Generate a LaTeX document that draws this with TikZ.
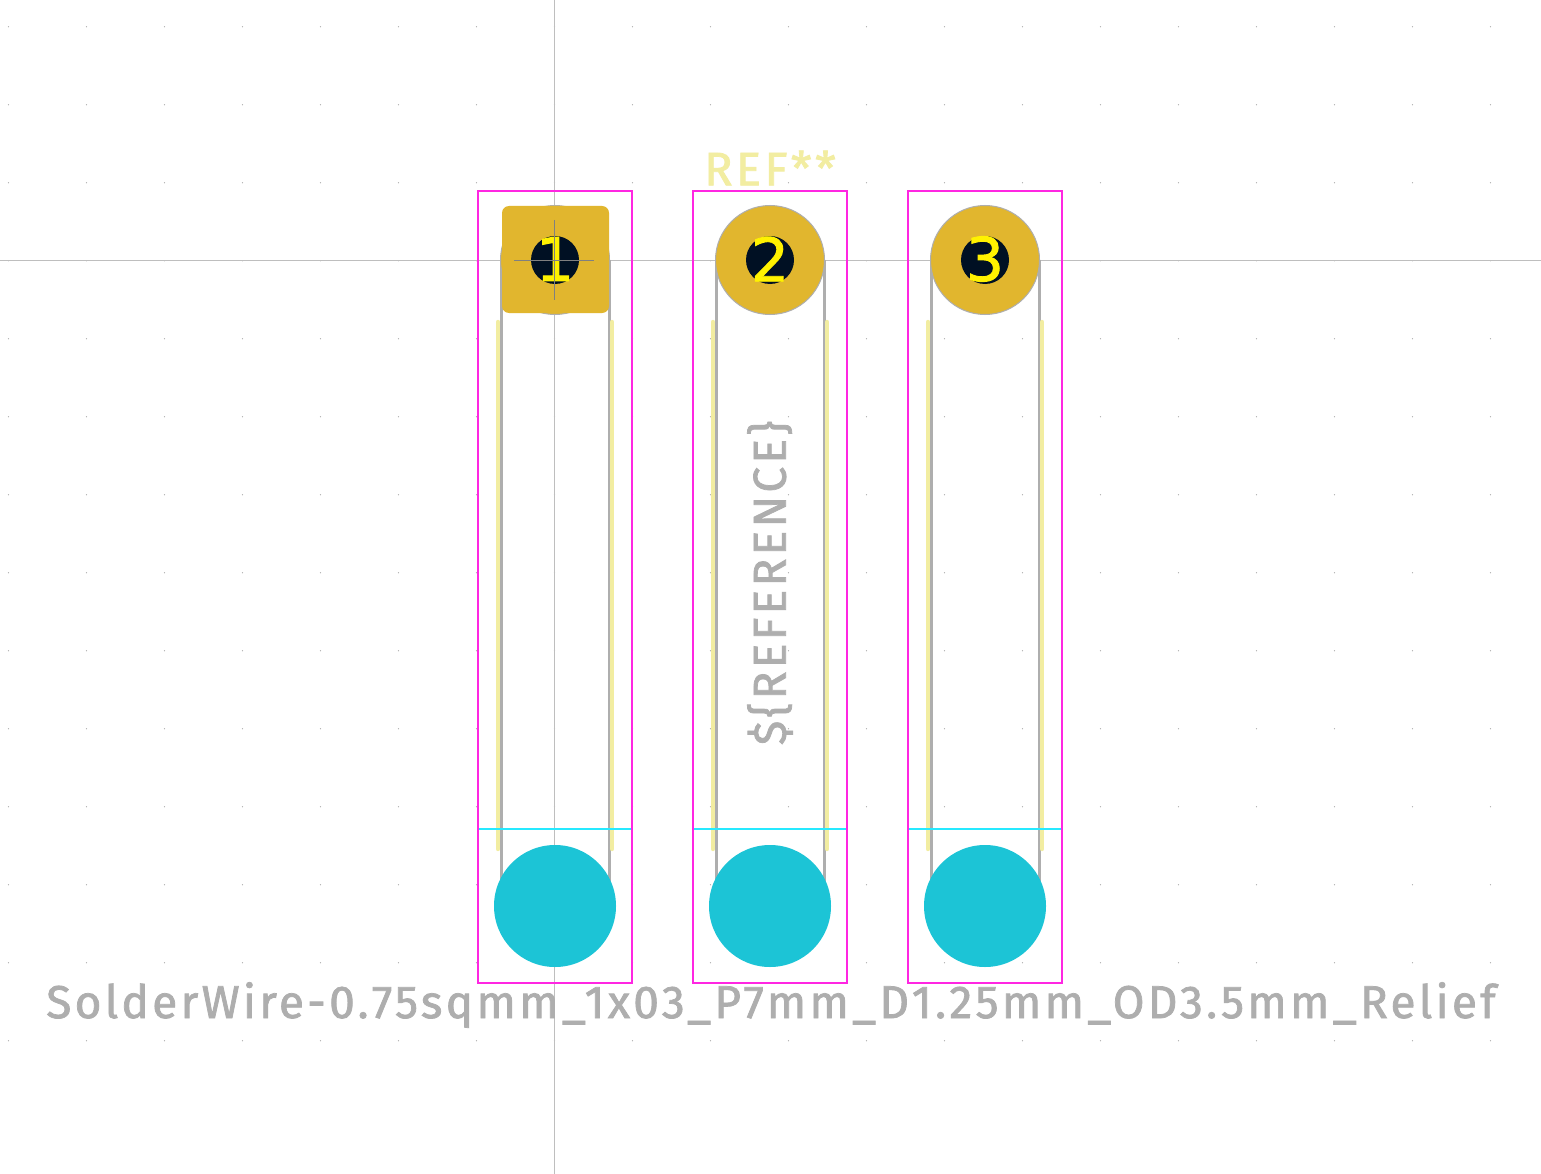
\documentclass[tikz,border=0pt]{standalone}
\usepackage{fontspec}
\setmainfont{Fira Sans}
\newfontfamily\kifont[LetterSpace=7.2,FakeBold=1.6]{Fira Sans}
\newfontfamily\numfont[FakeBold=1.5]{DejaVu Sans}
\definecolor{court}{HTML}{FF26E2}
\definecolor{cyanline}{HTML}{26E9FF}
\definecolor{cyandisc}{HTML}{1CC4D6}
\definecolor{padgold}{HTML}{E1B62E}
\definecolor{holedark}{HTML}{001023}
\definecolor{silk}{HTML}{F2EDA1}
\definecolor{fab}{HTML}{AEAEAE}
\definecolor{axisgrey}{HTML}{BEBEBE}
\definecolor{griddot}{HTML}{A8A8A8}
\tikzset{
  x=1pt,y=-1pt,
  courtline/.style={draw=court,line width=2.4pt},
  cutline/.style={draw=cyanline,line width=2pt},
  fabline/.style={draw=fab,line width=3pt},
  silkline/.style={draw=silk,line width=4.4pt,line cap=round},
  axisline/.style={draw=axisgrey,line width=1.2pt},
  padnum/.style={text=yellow,font=\fontsize{60}{60}\selectfont\numfont,inner sep=0pt},
  fabtext/.style={text=fab,inner sep=0pt},
}
\begin{document}
\begin{tikzpicture}
\useasboundingbox[fill=white] (0,0) rectangle (1541,1174);
% grid dots
\foreach \gx in {0,...,19}{
  \foreach \gy in {0,...,13}{
    \fill[griddot] ({8.5+78*\gx},{26.7+78*\gy}) circle (0.6);
  }
}
% axes
\draw[axisline] (554.5,0) -- (554.5,1174);
\draw[axisline] (0,260.5) -- (1541,260.5);
% columns
\foreach \cx/\n in {555/1,770/2,985/3}{
  \draw[fabline] (\cx-54,260) -- (\cx-54,885);
  \draw[fabline] (\cx+54,260) -- (\cx+54,885);
  \draw[silkline] (\cx-57,322) -- (\cx-57,849);
  \draw[silkline] (\cx+57,322) -- (\cx+57,849);
  \draw[courtline] (\cx-77,191) rectangle (\cx+77,983);
  \draw[cutline] (\cx-76,829) -- (\cx+76,829);
  \fill[cyandisc] (\cx,906) circle (61);
  \filldraw[fill=padgold,draw=fab,line width=1pt] (\cx,260) circle (54.5);
}
% square pad 1
\fill[padgold,rounded corners=7pt] (502,206) rectangle (609,313);
% holes
\foreach \cx in {555,770,985}{
  \fill[holedark] (\cx,260) circle (24);
}
% pad numbers
\node[padnum] (n1) at (555,259) {1};
\node[padnum] (n2) at (770,259) {2};
\node[padnum] (n3) at (985,259) {3};
% anchor cross of pad 1
\draw[draw=gray,line width=1pt] (514,260.5) -- (594,260.5);
\draw[draw=gray,line width=1pt] (554.5,220) -- (554.5,300);
% texts
\node[text=silk,inner sep=0pt,font=\fontsize{47}{47}\selectfont\kifont] (ref) at (770,168) {REF**};
\node[fabtext,rotate=90,font=\fontsize{46}{46}\selectfont\kifont] (fabref) at (770,583) {\$\{REFERENCE\}};
\node[fabtext,font=\fontsize{46}{46}\selectfont\kifont] (val) at (771,1005) {SolderWire-0.75sqmm\_1x03\_P7mm\_D1.25mm\_OD3.5mm\_Relief};
\end{tikzpicture}
\end{document}
